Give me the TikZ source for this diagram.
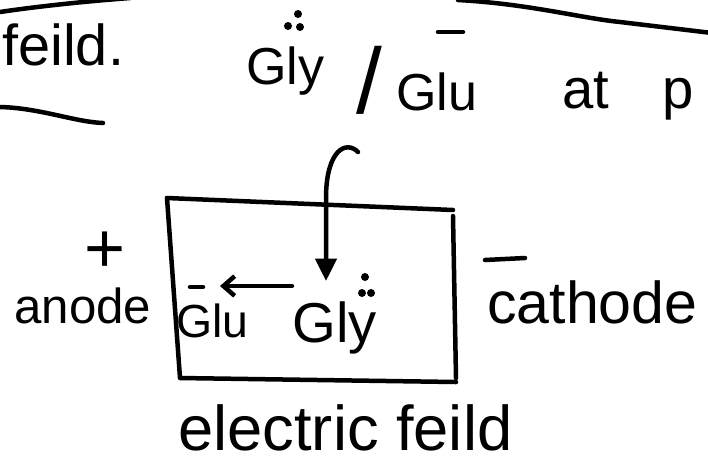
\documentclass[tikz,border=0pt]{standalone}
\usepackage{fontspec}
\setmainfont{Liberation Sans}
\usetikzlibrary{positioning, arrows.meta}

\tikzset{
  pen/.style={line width=3.2pt, line cap=round, line join=round},
  word/.style={font=\fontsize{#1}{#1}\selectfont, inner sep=0pt, anchor=base west},
  word/.default=40,
}

\begin{document}
\begin{tikzpicture}[x=0.025cm, y=-0.025cm, >=stealth]
    \useasboundingbox (0,0) rectangle (708,462);
    \clip (0,0) rectangle (708,462);
    % strokes across the top and under the first line
    \draw[pen] (0,12) .. controls (40,6) and (90,1) .. (130,-2);
    \draw[pen] (458,0) .. controls (530,4) and (580,18) .. (620,22) -- (712,33);
    \draw[pen] (0,107) .. controls (40,108) and (75,122) .. (103,123);

    % first line
    \node[word=41] (feild) at (2,65) {feild.};
    \node[word=37] (gly1) at (246,84) {Gly};
    \node[word=66, anchor=center] (slash) at (369,80) {/};
    \node[word=37] (glu1) at (396,110) {Glu};
    \node[word=40] (atp) at (562,108) {at\hspace{0.95em}p};
    \fill (298,14) circle (4);
    \fill (288,26) circle (4) (300,27) circle (4);
    \draw[pen] (438,32) -- (463,32);

    % the box
    \draw[pen] (167,198) -- (453,210);
    \draw[pen] (453,216) -- (456,378);
    \draw[pen] (167,198) -- (180,378) -- (456,382);

    % inside the box
    \node[word=40] (gly) at (292,342) {Gly};
    \node[word=33] (glu) at (176,337) {Glu};
    \fill (365,277) circle (4);
    \fill (362,293) circle (4) (371,293) circle (4);
    \draw[pen] (190,287) -- (203,287);
    \coordinate (hook) at (358,152);
    \coordinate (drop) at (326,281);
    \draw[pen, -{Triangle[length=16pt, width=15pt]}] (hook)
        .. controls (346,140) and (327,150) .. (326,195) -- (drop);
    \draw[pen, -{Straight Barb[length=8pt, width=14pt]}] (gly.north west |- 0,286) -- (220,286);

    % electrodes
    \node[word=50, anchor=center] (plus) at (105,252) {+};
    \node[word=35] (anode) at (14,323) {anode};
    \draw[pen] (485,260) -- (525,258);
    \node[word=42] (cathode) at (487,323) {cathode};

    \node[word=45] (efield) at (178,450) {electric feild};
\end{tikzpicture}
\end{document}
